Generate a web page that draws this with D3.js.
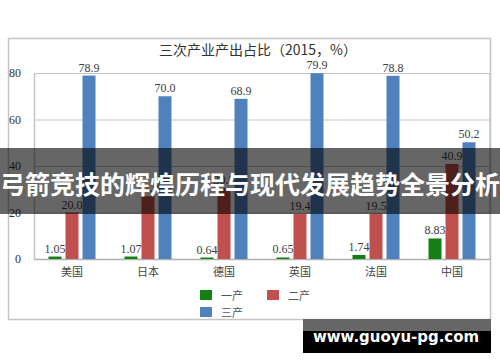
<!DOCTYPE html>
<html>
<head>
<meta charset="utf-8">
<script src="https://cdn.jsdelivr.net/npm/d3@7"></script>
<style>
  body { margin: 0; background: #fff; }
  svg { display: block; }
</style>
</head>
<body>
<svg id="chart"></svg>
<script>
// datos del gráfico
const countries = ["美国", "日本", "德国", "英国", "法国", "中国"];
const series = ["一产", "二产", "三产"];
const primary = [1.05, 1.07, 0.64, 0.65, 1.74, 8.83];
const secondary = [20.0, 27.0, 30.5, 19.4, 19.5, 40.9];
const tertiary = [78.9, 70.0, 68.9, 79.9, 78.8, 50.2];
const labelsText = [
  ["1.05", "1.07", "0.64", "0.65", "1.74", "8.83"],
  ["20.0", "27.0", "30.5", "19.4", "19.5", "40.9"],
  ["78.9", "70.0", "68.9", "79.9", "78.8", "50.2"]
];
const yTicks = [0, 20, 40, 60, 80];
const colors = ["#128012", "#c0504d", "#4f81bd"];
const title = "三次产业产出占比（2015，%）";
const banner = "弓箭竞技的辉煌历程与现代发展趋势全景分析";
const watermark = "www.guoyu-pg.com";

const width = 500;
const height = 362;
const plot = { left: 34, right: 490, top: 73, bottom: 259 };

const svg = d3.select("#chart")
    .attr("width", width)
    .attr("height", height);

const serif = "'Liberation Serif', 'Times New Roman', serif";
const cjk = "'Noto Sans CJK SC', sans-serif";

// marco exterior
svg.append("rect")
    .attr("x", 8.5).attr("y", 38.5)
    .attr("width", 482).attr("height", 281)
    .attr("fill", "none")
    .attr("stroke", "#c4c4c4")
    .attr("stroke-width", 1.5);

// escalas
const x = d3.scaleBand()
    .domain(countries)
    .range([plot.left, plot.right]);

const xInner = d3.scaleBand()
    .domain(series)
    .range([14.5, 61.5])
    .paddingInner(4 / 17);

const y = d3.scaleLinear()
    .domain([0, 80])
    .range([plot.bottom, plot.top]);

// rejilla
svg.append("g")
    .attr("transform", `translate(${plot.left},0)`)
    .call(d3.axisLeft(y).tickValues(yTicks).tickSize(-(plot.right - plot.left)).tickFormat(""))
    .call(g => g.select(".domain").remove())
    .call(g => g.selectAll("line").attr("stroke", "#c4c4c4").attr("stroke-width", 1.2));

// eje Y
svg.append("g")
    .attr("transform", `translate(${plot.left},0)`)
    .call(d3.axisLeft(y).tickValues(yTicks).tickSize(0).tickPadding(13))
    .call(g => g.select(".domain").attr("stroke", "#c4c4c4").attr("stroke-width", 1.5))
    .call(g => g.selectAll("text")
        .attr("font-family", serif)
        .attr("font-size", 12)
        .attr("fill", "#333"));

// línea derecha del área
svg.append("line")
    .attr("x1", plot.right).attr("x2", plot.right)
    .attr("y1", plot.top).attr("y2", plot.bottom)
    .attr("stroke", "#c4c4c4").attr("stroke-width", 1.2);

// eje X
svg.append("g")
    .attr("transform", `translate(0,${plot.bottom})`)
    .call(d3.axisBottom(x).tickSize(0).tickPadding(9))
    .call(g => g.select(".domain").attr("stroke", "#b0b0b0").attr("stroke-width", 1.5))
    .call(g => g.selectAll("text")
        .attr("font-family", cjk)
        .attr("font-size", 11)
        .attr("fill", "#444"));

// barras
const allValues = [primary, secondary, tertiary];
series.forEach((s, si) => {
    const grp = svg.append("g");
    grp.selectAll("rect")
        .data(countries.map((c, i) => ({ c, v: allValues[si][i], t: labelsText[si][i] })))
        .enter()
        .append("rect")
        .attr("x", d => x(d.c) + xInner(s))
        .attr("y", d => y(d.v))
        .attr("width", xInner.bandwidth())
        .attr("height", d => y(0) - y(d.v))
        .attr("fill", colors[si]);
    grp.selectAll("text")
        .data(countries.map((c, i) => ({ c, v: allValues[si][i], t: labelsText[si][i] })))
        .enter()
        .append("text")
        .attr("x", d => x(d.c) + xInner(s) + xInner.bandwidth() / 2)
        .attr("y", d => y(d.v) - 4)
        .attr("text-anchor", "middle")
        .attr("font-family", serif)
        .attr("font-size", 12)
        .attr("fill", "#404040")
        .text(d => d.t);
});

// título
svg.append("text")
    .attr("x", 258).attr("y", 55)
    .attr("text-anchor", "middle")
    .attr("font-family", cjk)
    .attr("font-size", 14)
    .attr("fill", "#333")
    .text(title);

// leyenda
const legendPos = [[200, 290], [267, 290], [200, 307]];
series.forEach((s, i) => {
    svg.append("rect")
        .attr("x", legendPos[i][0]).attr("y", legendPos[i][1])
        .attr("width", 12).attr("height", 10)
        .attr("fill", colors[i]);
    svg.append("text")
        .attr("x", legendPos[i][0] + 21).attr("y", legendPos[i][1] + 10)
        .attr("font-family", cjk)
        .attr("font-size", 11)
        .attr("fill", "#555")
        .text(s);
});

// banda superpuesta
svg.append("rect")
    .attr("x", 0).attr("y", 148)
    .attr("width", width).attr("height", 66)
    .attr("fill", "rgba(0,0,0,0.6)");
svg.append("text")
    .attr("x", 250).attr("y", 194)
    .attr("text-anchor", "middle")
    .attr("font-family", cjk)
    .attr("font-weight", "bold")
    .attr("font-size", 25)
    .attr("fill", "#fff")
    .text(banner);

// marca de agua
svg.append("rect")
    .attr("x", 303).attr("y", 319)
    .attr("width", 188).attr("height", 12)
    .attr("fill", "#666");
svg.append("rect")
    .attr("x", 303).attr("y", 331)
    .attr("width", 188).attr("height", 22)
    .attr("fill", "#000");
svg.append("text")
    .attr("x", 313).attr("y", 342)
    .attr("font-family", "'DejaVu Sans', sans-serif")
    .attr("font-weight", "bold")
    .attr("font-size", 16)
    .attr("textLength", 166)
    .attr("lengthAdjust", "spacingAndGlyphs")
    .attr("fill", "#fff")
    .text(watermark);
</script>
</body>
</html>
